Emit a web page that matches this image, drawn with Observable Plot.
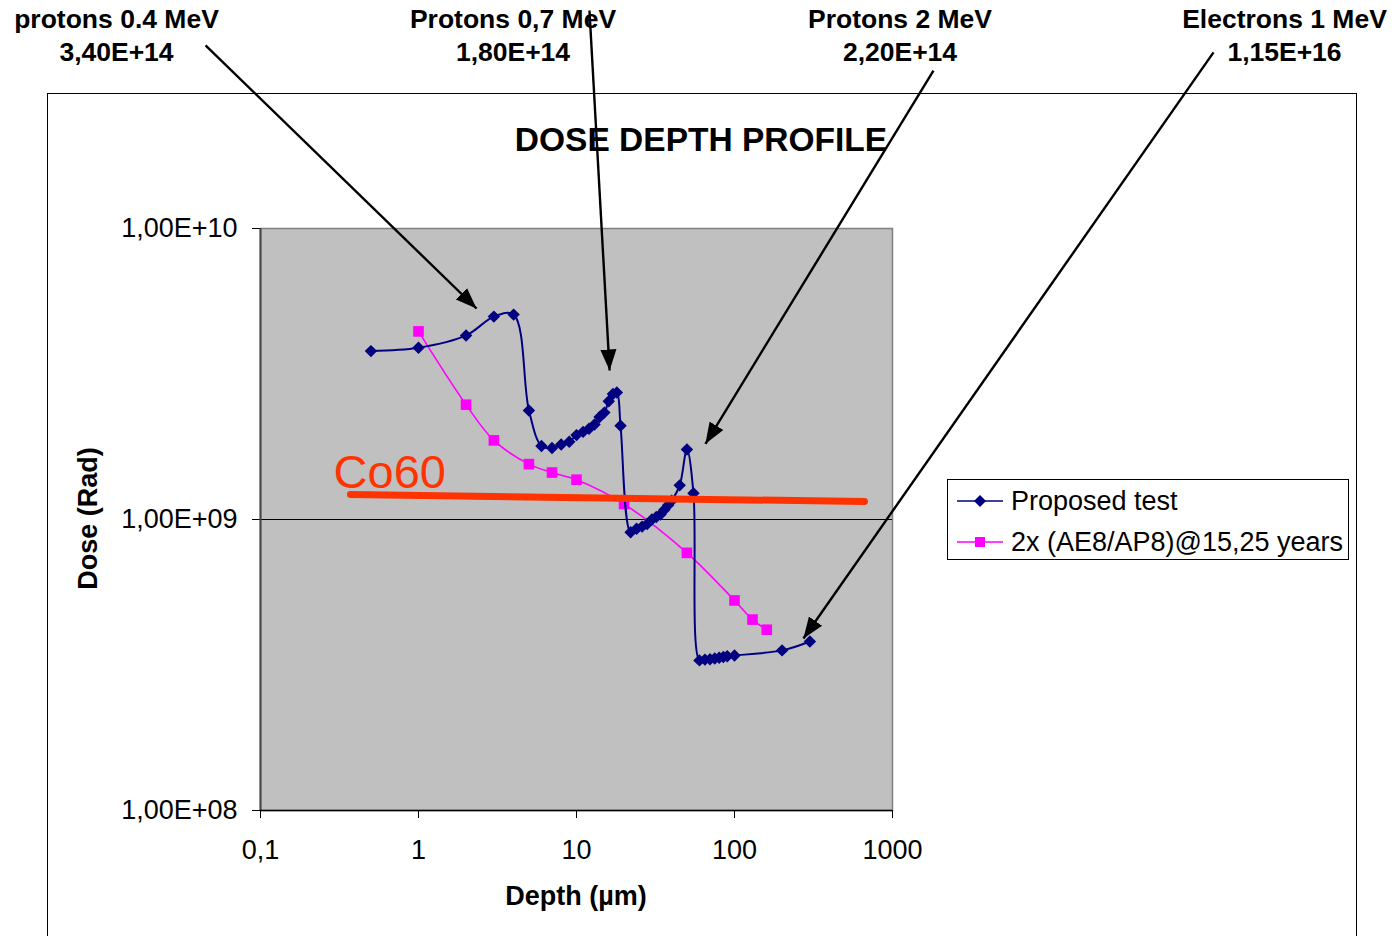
<!DOCTYPE html>
<html>
<head>
<meta charset="utf-8">
<script src="https://cdn.jsdelivr.net/npm/d3@7"></script>
<script src="https://cdn.jsdelivr.net/npm/@observablehq/plot@0.6"></script>
<style>
  body { margin: 0; background: #fff; font-family: "Liberation Sans", Arial, sans-serif; }
  #wrap { position: relative; width: 1396px; height: 936px; overflow: hidden; }
  #border { position: absolute; left: 47px; top: 93px; width: 1308px; height: 900px; border: 1.5px solid #000; }
  #chart { position: absolute; left: 0; top: 0; }
  .abs { position: absolute; white-space: nowrap; color: #000; }
  .ann { font-weight: bold; font-size: 26.5px; line-height: 33px; text-align: center; width: 340px; }
  #title { font-weight: bold; font-size: 33.5px; left: 401px; width: 600px; text-align: center; top: 121px; }
  #xlabel { font-weight: bold; font-size: 27px; left: 426px; width: 300px; text-align: center; top: 881px; }
  #ylabel { font-weight: bold; font-size: 27px; left: -62px; width: 300px; text-align: center; top: 503px; transform: rotate(-90deg); }
  #legend { position: absolute; left: 947px; top: 479px; width: 400px; height: 79px; border: 1.5px solid #000; background: #fff; }
  .leg { position: absolute; left: 0; height: 40px; display: flex; align-items: center; font-size: 27px; }
  .leg svg { margin-left: 9px; margin-right: 8px; }
</style>
</head>
<body>
<div id="wrap">
  <div id="border"></div>
  <div id="chart"></div>
  <div class="abs" id="title">DOSE DEPTH PROFILE</div>
  <div class="abs" id="xlabel">Depth (µm)</div>
  <div class="abs" id="ylabel">Dose (Rad)</div>
  <div id="annots"></div>
  <div id="legend"></div>
</div>
<script>
// ---- data ----
const blueDepth = [0.5, 1, 2, 3, 4, 5, 6, 7, 8, 9,
  10, 11, 12, 13, 14, 15, 16, 17, 18, 19,
  22, 24, 26, 28, 30, 32, 34, 36, 38, 40,
  45, 50, 55,
  60, 65, 70, 75, 80, 85, 90, 100,
  200, 300];
const blueDose = [3.79e9, 3.89e9, 4.29e9, 4.98e9, 5.06e9, 2.37e9, 1.79e9, 1.76e9, 1.81e9, 1.85e9,
  1.95e9, 2.0e9, 2.05e9, 2.12e9, 2.25e9, 2.33e9, 2.55e9, 2.7e9, 2.73e9, 2.1e9,
  9.04e8, 9.3e8, 9.45e8, 9.65e8, 1.0e9, 1.02e9, 1.04e9, 1.08e9, 1.12e9, 1.16e9,
  1.31e9, 1.74e9, 1.23e9,
  3.28e8, 3.3e8, 3.31e8, 3.33e8, 3.35e8, 3.37e8, 3.39e8, 3.41e8,
  3.55e8, 3.81e8];
const magDepth = [1, 2, 3, 5, 7, 10, 20, 50, 100, 130, 160];
const magDose = [4.43e9, 2.48e9, 1.87e9, 1.55e9, 1.45e9, 1.37e9, 1.13e9, 7.68e8, 5.27e8, 4.53e8, 4.18e8];
const co60Depth = [0.371, 665];
const co60Dose = [1.219e9, 1.153e9];
const co60LabelDepth = [0.29];
const co60LabelDose = [1.45e9];

const seriesNames = ["Proposed test", "2x (AE8/AP8)@15,25 years"];
const seriesColors = ["#000080", "#FF00FF"];

const xTicks = [0.1, 1, 10, 100, 1000];
const xTickLabels = ["0,1", "1", "10", "100", "1000"];
const yTicks = [1e8, 1e9, 1e10];
const yTickLabels = ["1,00E+08", "1,00E+09", "1,00E+10"];

// annotations (arrow start -> end, in depth/dose units)
const annLine1 = ["protons 0.4 MeV", "Protons 0,7 MeV", "Protons 2 MeV", "Electrons 1 MeV"];
const annLine2 = ["3,40E+14", "1,80E+14", "2,20E+14", "1,15E+16"];
const arrowX1 = [0.0449, 12.08, 1817, 107600];
const arrowY1 = [4.26e10, 5.61e10, 3.49e10, 4.03e10];
const arrowX2 = [2.33, 16.2, 65.5, 273];
const arrowY2 = [5.31e9, 3.25e9, 1.82e9, 3.9e8];

// ---- build tables ----
const blue = blueDepth.map((d, i) => ({depth: d, dose: blueDose[i]}));
const mag = magDepth.map((d, i) => ({depth: d, dose: magDose[i]}));
const co60 = co60Depth.map((d, i) => ({depth: d, dose: co60Dose[i]}));
const co60Label = co60LabelDepth.map((d, i) => ({depth: d, dose: co60LabelDose[i], text: "Co60"}));
const arrows = arrowX1.map((d, i) => ({x1: d, y1: arrowY1[i], x2: arrowX2[i], y2: arrowY2[i]}));

const fmtX = d => xTickLabels[xTicks.indexOf(d)];
const fmtY = d => yTickLabels[yTicks.indexOf(d)];
const FONT = '"Liberation Sans", Arial, sans-serif';

const plot = Plot.plot({
  width: 1396,
  height: 936,
  marginLeft: 260,
  marginRight: 504,
  marginTop: 228,
  marginBottom: 126,
  style: {fontFamily: FONT, fontSize: "27px", background: "transparent", overflow: "visible", color: "#000"},
  x: {type: "log", domain: [0.1, 1000]},
  y: {type: "log", domain: [1e8, 1e10]},
  marks: [
    Plot.frame({fill: "#C0C0C0", stroke: "#808080", strokeWidth: 1.5}),
    Plot.ruleY([1e9], {stroke: "#000", strokeWidth: 1}),
    Plot.axisX({ticks: xTicks, tickFormat: fmtX, tickSize: 8, tickPadding: 21, label: null, fontSize: 27, stroke: "#000"}),
    Plot.axisY({ticks: yTicks, tickFormat: fmtY, tickSize: 8, tickPadding: 15, label: null, fontSize: 27, stroke: "#000"}),
    Plot.ruleX([0.1], {stroke: "#444", strokeWidth: 2}),
    Plot.ruleY([1e8], {stroke: "#000", strokeWidth: 1.5}),
    Plot.line(mag, {x: "depth", y: "dose", stroke: seriesColors[1], strokeWidth: 1.6, curve: "catmull-rom"}),
    Plot.dot(mag, {x: "depth", y: "dose", symbol: "square", fill: seriesColors[1], r: 6}),
    Plot.line(blue, {x: "depth", y: "dose", stroke: seriesColors[0], strokeWidth: 2, curve: "catmull-rom"}),
    Plot.dot(blue, {x: "depth", y: "dose", symbol: "diamond2", fill: seriesColors[0], r: 5.6}),
    Plot.line(co60, {x: "depth", y: "dose", stroke: "#FF3300", strokeWidth: 7}),
    Plot.text(co60Label, {x: "depth", y: "dose", text: "text", fill: "#FF3300", fontSize: 47, textAnchor: "start"}),
    Plot.link(arrows, {x1: "x1", y1: "y1", x2: "x2", y2: "y2", stroke: "#000", strokeWidth: 2.4, markerEnd: "arrow", clip: false})
  ]
});

// filled arrowheads
plot.querySelectorAll("marker").forEach(m => {
  m.setAttribute("viewBox", "-11 -5 11 10");
  m.setAttribute("markerWidth", "8.8");
  m.setAttribute("markerHeight", "8");
  m.setAttribute("fill", "#000");
  m.setAttribute("stroke", "none");
  const p = m.querySelector("path");
  if (p) p.setAttribute("d", "M-11,-4.2L0,0L-11,4.2Z");
});
document.getElementById("chart").appendChild(plot);

// top annotations
const annCenters = [116.5, 513, 900, 1284.5];
const annots = document.getElementById("annots");
annLine1.forEach((t, i) => {
  const d = document.createElement("div");
  d.className = "abs ann";
  d.style.left = (annCenters[i] - 170) + "px";
  d.style.top = "3px";
  d.innerHTML = t + "<br>" + annLine2[i];
  annots.appendChild(d);
});

// legend
const legend = document.getElementById("legend");
seriesNames.forEach((name, i) => {
  const row = document.createElement("div");
  row.className = "leg";
  row.style.top = (i === 0 ? 1 : 42) + "px";
  const c = seriesColors[i];
  const sym = i === 0
    ? `<path d="M23,-6L29,0L23,6L17,0Z" fill="${c}"/>`
    : `<rect x="18" y="-5" width="10" height="10" fill="${c}"/>`;
  row.innerHTML = `<svg width="46" height="20" viewBox="0 -10 46 20"><line x1="0" y1="0" x2="46" y2="0" stroke="${c}" stroke-width="1.5"/>${sym}</svg><span>${name}</span>`;
  legend.appendChild(row);
});
</script>
</body>
</html>
